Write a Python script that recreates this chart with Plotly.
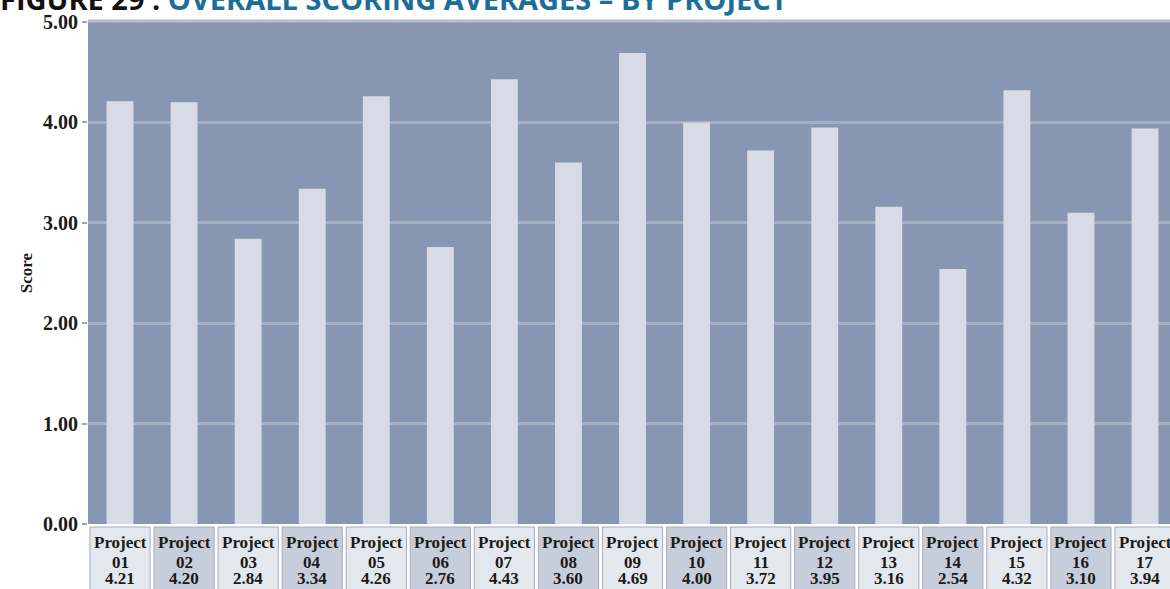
import plotly.graph_objects as go

projects = ["01", "02", "03", "04", "05", "06", "07", "08", "09",
            "10", "11", "12", "13", "14", "15", "16", "17"]
scores = [4.21, 4.20, 2.84, 3.34, 4.26, 2.76, 4.43, 3.60, 4.69,
          4.00, 3.72, 3.95, 3.16, 2.54, 4.32, 3.10, 3.94]
y_ticks = [0, 1, 2, 3, 4, 5]

labels = [f"Project {p}" for p in projects]

fig = go.Figure()
fig.add_trace(go.Bar(
    x=labels, y=scores,
    marker=dict(color="#d6dbe6", line=dict(width=0)),
    hovertemplate="%{x}: %{y:.2f}<extra></extra>",
))

label_font = dict(family="Liberation Serif", size=17, color="#1a1a1a", weight="bold")
shapes = []
annotations = []
row_y = [-0.037, -0.0765, -0.1085]
for i, (lab, p, s) in enumerate(zip(labels, projects, scores)):
    shapes.append(dict(
        type="rect", xref="x", yref="paper",
        x0=i - 0.47, x1=i + 0.47, y0=-0.006, y1=-0.25,
        fillcolor="#e3e7ee" if i % 2 == 0 else "#c6cddb",
        line=dict(color="#a3adc0", width=1), layer="below",
    ))
    for txt, yy in zip(["Project", p, f"{s:.2f}"], row_y):
        annotations.append(dict(
            x=lab, xref="x", y=yy, yref="paper", text=txt, showarrow=False,
            xanchor="center", yanchor="middle", font=label_font,
        ))

# light top border of the plot area
shapes.append(dict(type="line", xref="paper", yref="paper", x0=0, x1=1, y0=1.002, y1=1.002,
                   line=dict(color="#b7c0d1", width=3), layer="above"))

fig.update_layout(
    width=1170, height=589,
    margin=dict(l=88, r=0, t=22, b=65),
    paper_bgcolor="white",
    plot_bgcolor="#8796b2",
    bargap=0.58,
    showlegend=False,
    shapes=shapes,
    annotations=annotations,
    title=dict(
        text="<span style='color:#111111'>FIGURE 29 : </span>OVERALL SCORING AVERAGES – BY PROJECT",
        font=dict(family="Open Sans", size=29, color="#1d6d97", weight="bold"),
        xref="container", yref="container", x=0.0, xanchor="left",
        y=1.0, yanchor="middle", pad=dict(l=0, t=0),
    ),
    font=dict(family="Liberation Serif", color="#1a1a1a"),
)

fig.update_xaxes(
    range=[-0.5, 16.39],
    showgrid=False, zeroline=False, showline=False,
    ticks="", showticklabels=False,
)
fig.update_yaxes(
    range=[0, 5], tickvals=y_ticks, tickformat=".2f",
    showgrid=True, gridcolor="#a4afc4", gridwidth=3,
    zeroline=False, showline=False,
    ticks="outside", ticklen=5, tickwidth=2, tickcolor="#9aa6bd",
    tickfont=dict(family="Liberation Serif", size=20, color="#1a1a1a", weight="bold"),
    title=dict(text="Score", font=dict(family="Liberation Serif", size=17, color="#1a1a1a", weight="bold"), standoff=6),
)

fig.write_html("out.html")
